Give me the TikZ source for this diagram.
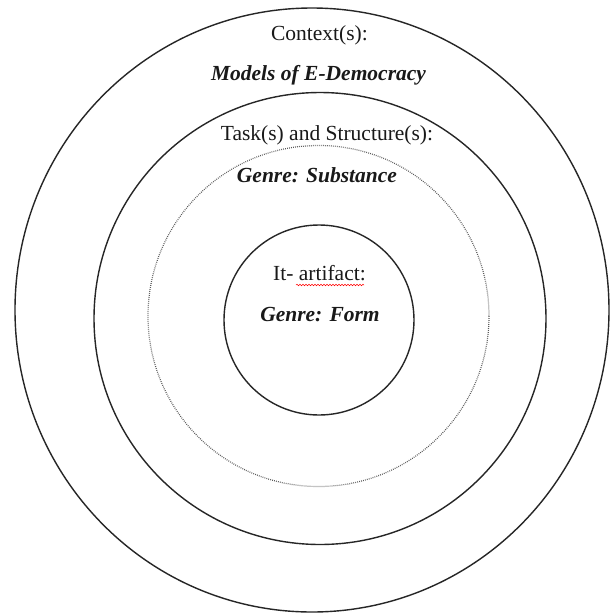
\documentclass[tikz,border=0pt]{standalone}
\usepackage{fontspec}
\setmainfont{Liberation Serif}
\usetikzlibrary{decorations.pathmorphing}
\begin{document}
\begin{tikzpicture}[x=1pt,y=-1pt,
  ring/.style={draw=black!85, line width=1.4pt},
  dotring/.style={draw=black!65, line width=1.2pt, dash pattern=on 0.8pt off 1.2pt},
  lbl/.style={font=\fontsize{21.5}{24}\selectfont, inner sep=0pt, text=black!90},
  ilbl/.style={font=\fontsize{21.5}{24}\selectfont\bfseries\itshape, inner sep=0pt, text=black!90}]
\useasboundingbox (0,0) rectangle (611,614);
\fill[white] (0,0) rectangle (611,614);
\draw[ring] (312,310) ellipse [x radius=297, y radius=302];
\draw[ring] (320,318.5) ellipse [x radius=226, y radius=226];
\draw[dotring] (318.5,316) circle [radius=170.5];
\draw[ring] (319,320) circle [radius=95];
\node[lbl] (ctx) at (319.5,35) {Context(s):};
\node[ilbl] (models) at (318.5,75) {Models of E-Democracy};
\node[lbl] (task) at (327,135) {Task(s) and Structure(s):};
\node[ilbl] (subst) at (317,175) {Genre: Substance};
\node[lbl] (it) at (319.5,273) {It- artifact:};
\node[ilbl] (form) at (320,315) {Genre: Form};
\draw[red, line width=0.5pt, decorate, decoration={snake, amplitude=0.8pt, segment length=3pt}] (296,285) -- (364,285);
\end{tikzpicture}
\end{document}
